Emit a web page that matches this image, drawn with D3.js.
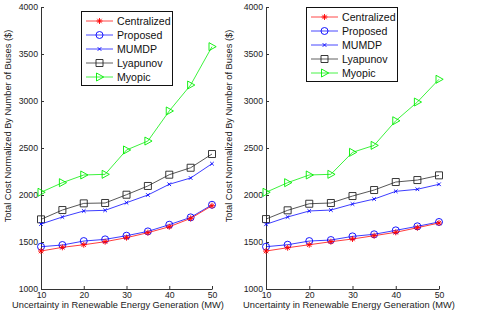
<!DOCTYPE html>
<html lang="en">
<head>
<meta charset="utf-8">
<script src="https://d3js.org/d3.v7.min.js"></script>
<style>
  body { margin: 0; background: #fff; }
  svg { display: block; font-family: "Liberation Sans", Arial, sans-serif; }
  .tick text { font-size: 8.7px; fill: #222; }
  .domain, .tick line { stroke: #333; }
</style>
</head>
<body>
<div class="display1"></div>
<script>
// x values (MW)
var uncertainty = [10, 15, 20, 25, 30, 35, 40, 45, 50];
var xTicks = [10, 20, 30, 40, 50];
var yTicks = [1000, 1500, 2000, 2500, 3000, 3500, 4000];
var seriesNames = ['Centralized', 'Proposed', 'MUMDP', 'Lyapunov', 'Myopic'];

// left panel
var leftCentralized = [1404, 1443, 1471, 1503, 1546, 1599, 1662, 1751, 1886];
var leftProposed    = [1450, 1468, 1510, 1528, 1567, 1613, 1684, 1762, 1896];
var leftMUMDP       = [1691, 1766, 1830, 1837, 1918, 2000, 2114, 2181, 2333];
var leftLyapunov    = [1741, 1840, 1911, 1915, 2003, 2096, 2216, 2290, 2436];
var leftMyopic      = [2029, 2131, 2213, 2220, 2479, 2574, 2894, 3170, 3578];

// right panel
var rightCentralized = [1404, 1439, 1471, 1503, 1532, 1567, 1603, 1652, 1702];
var rightProposed    = [1450, 1471, 1510, 1521, 1560, 1582, 1624, 1667, 1713];
var rightMUMDP       = [1688, 1766, 1830, 1840, 1904, 1957, 2039, 2061, 2114];
var rightLyapunov    = [1744, 1837, 1907, 1915, 1989, 2053, 2138, 2159, 2209];
var rightMyopic      = [2029, 2131, 2213, 2220, 2454, 2528, 2790, 2989, 3231];

var xLabel = 'Uncertainty in Renewable Energy Generation (MW)';
var yLabel = 'Total Cost Normalized By Number of Buses ($)';

var styles = {
  Centralized: {color: '#ff0000', marker: 'star'},
  Proposed: {color: '#0000ff', marker: 'circle'},
  MUMDP: {color: '#0000ff', marker: 'cross'},
  Lyapunov: {color: '#222222', marker: 'square'},
  Myopic: {color: '#00ee00', marker: 'triangle'}
};

function markerPath(type) {
  if (type === 'star') return 'M-3,0H3M0,-3V3M-2.2,-2.2L2.2,2.2M-2.2,2.2L2.2,-2.2';
  if (type === 'circle') return 'M3.5,0A3.5,3.5 0 1,1 -3.5,0A3.5,3.5 0 1,1 3.5,0Z';
  if (type === 'cross') return 'M-1.8,-1.8L1.8,1.8M-1.8,1.8L1.8,-1.8';
  if (type === 'square') return 'M-3.5,-3.5H3.5V3.5H-3.5Z';
  return 'M-3,-4L4.2,0L-3,4Z';
}

var width = 485, height = 317;
var svg = d3.select('.display1').append('svg').attr('width', width).attr('height', height);

var panels = [
  {x0: 41, x1: 212, ylabX: 8, xlabX: 118, legX: 81, legY: 11, data: [leftCentralized, leftProposed, leftMUMDP, leftLyapunov, leftMyopic]},
  {x0: 266, x1: 439, ylabX: 229, xlabX: 349, legX: 306, legY: 7, data: [rightCentralized, rightProposed, rightMUMDP, rightLyapunov, rightMyopic]}
];

panels.forEach(function(p) {
  var x = d3.scaleLinear().domain([10, 50]).range([p.x0, p.x1]);
  var y = d3.scaleLinear().domain([1000, 4000]).range([289, 7]);
  var g = svg.append('g');

  g.append('g').attr('transform', 'translate(0,289)')
    .call(d3.axisBottom(x).tickValues(xTicks).tickFormat(d3.format('d')).tickSize(-3).tickSizeOuter(0).tickPadding(4))
    .call(function(a) { a.selectAll('text').attr('dy', '0.55em'); });
  g.append('g').attr('transform', 'translate(' + p.x0 + ',0)')
    .call(d3.axisLeft(y).tickValues(yTicks).tickFormat(d3.format('d')).tickSize(-3).tickSizeOuter(0).tickPadding(3));

  g.append('text').attr('x', p.xlabX).attr('y', 308).attr('text-anchor', 'middle')
    .attr('font-size', '9.3px').attr('fill', '#222').text(xLabel);
  g.append('text').attr('transform', 'translate(' + (p.ylabX + 3.3) + ',126) rotate(-90)')
    .attr('text-anchor', 'middle').attr('font-size', '9.3px').attr('fill', '#222').text(yLabel);

  var line = d3.line().x(function(d, i) { return x(uncertainty[i]); }).y(function(d) { return y(d); });

  // draw in order so Centralized ends up on top
  [4, 3, 2, 1, 0].forEach(function(k) {
    var st = styles[seriesNames[k]];
    g.append('path').datum(p.data[k]).attr('d', line)
      .attr('fill', 'none').attr('stroke', st.color).attr('stroke-width', 0.9).attr('stroke-opacity', 0.85);
    g.selectAll('.m' + k).data(p.data[k]).join('path')
      .attr('class', 'm' + k)
      .attr('transform', function(d, i) { return 'translate(' + x(uncertainty[i]) + ',' + y(d) + ')'; })
      .attr('d', markerPath(st.marker))
      .attr('fill', 'none').attr('stroke', st.color).attr('stroke-width', 0.9);
  });

  // legend
  var leg = g.append('g').attr('transform', 'translate(' + p.legX + ',' + p.legY + ')');
  leg.append('rect').attr('x', 0.5).attr('y', 0.5).attr('width', 91).attr('height', 74)
    .attr('fill', '#fff').attr('stroke', '#111').attr('stroke-width', 1);
  seriesNames.forEach(function(name, k) {
    var st = styles[name];
    var ry = 10 + k * 14;
    leg.append('line').attr('x1', 5).attr('x2', 32).attr('y1', ry).attr('y2', ry)
      .attr('stroke', st.color).attr('stroke-width', 0.9).attr('stroke-opacity', 0.8);
    leg.append('path').attr('transform', 'translate(18.5,' + ry + ')')
      .attr('d', markerPath(st.marker)).attr('fill', 'none').attr('stroke', st.color).attr('stroke-width', 0.9);
    leg.append('text').attr('x', 36).attr('y', ry).attr('dy', '0.36em')
      .attr('font-size', '10.6px').attr('fill', '#111').text(name);
  });
});
</script>
</body>
</html>
